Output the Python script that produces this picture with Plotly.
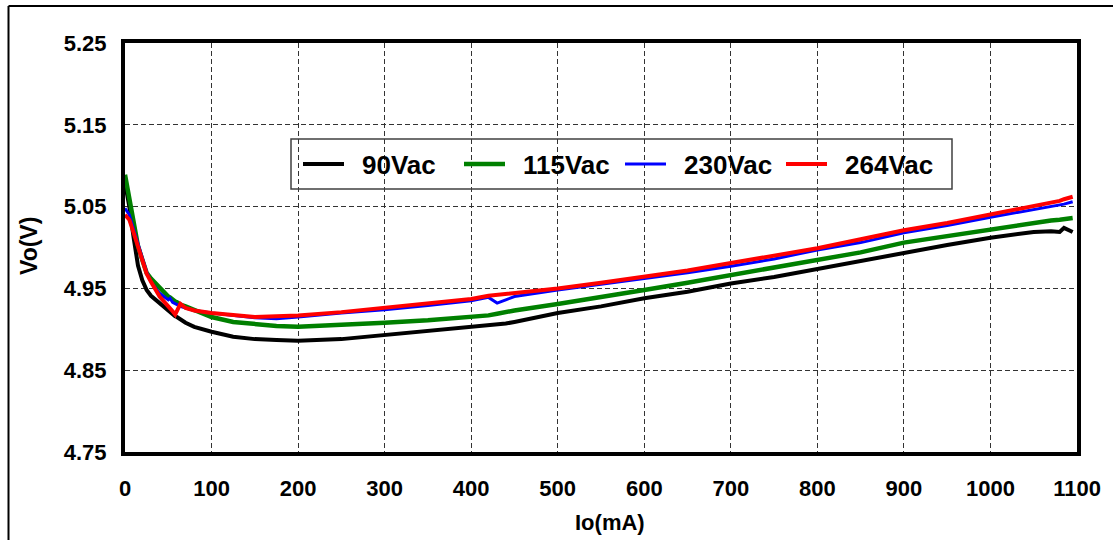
import plotly.graph_objects as go

# ---- data ----
io_ma = [0, 5, 10, 15, 20, 25, 30, 40, 50, 52, 55, 58, 60, 64, 70, 80, 100, 125, 150, 175,
         200, 250, 300, 350, 400, 420, 430, 440, 450, 500, 550, 600, 650, 700, 750, 800,
         850, 900, 950, 1000, 1050, 1070, 1080, 1085, 1095]

vo_90 = [5.079, 5.050, 5.012, 4.978, 4.960, 4.948, 4.941, 4.932, 4.922, 4.921, 4.918, 4.916,
         4.915, 4.912, 4.908, 4.903, 4.897, 4.891, 4.888, 4.887, 4.886, 4.888, 4.893, 4.897,
         4.902, 4.904, 4.905, 4.907, 4.909, 4.920, 4.928, 4.938, 4.946, 4.956, 4.964, 4.974,
         4.984, 4.993, 5.003, 5.012, 5.019, 5.020, 5.019, 5.024, 5.019]

vo_115 = [5.089, 5.062, 5.030, 5.002, 4.985, 4.969, 4.962, 4.950, 4.940, 4.939, 4.936, 4.934,
          4.933, 4.930, 4.928, 4.924, 4.915, 4.909, 4.906, 4.904, 4.903, 4.905, 4.908, 4.911,
          4.915, 4.917, 4.919, 4.921, 4.923, 4.931, 4.939, 4.948, 4.957, 4.966, 4.975, 4.984,
          4.994, 5.006, 5.014, 5.023, 5.030, 5.033, 5.034, 5.035, 5.036]

vo_230 = [5.048, 5.040, 5.022, 5.005, 4.985, 4.970, 4.958, 4.944, 4.936, 4.938, 4.933, 4.931,
          4.930, 4.928, 4.926, 4.923, 4.920, 4.917, 4.914, 4.913, 4.915, 4.920, 4.924, 4.929,
          4.935, 4.939, 4.932, 4.936, 4.940, 4.948, 4.955, 4.962, 4.969, 4.977, 4.986, 4.997,
          5.006, 5.018, 5.027, 5.037, 5.046, 5.050, 5.052, 5.053, 5.056]

vo_264 = [5.040, 5.034, 5.018, 5.000, 4.986, 4.968, 4.958, 4.940, 4.928, 4.926, 4.922, 4.918,
          4.922, 4.931, 4.926, 4.923, 4.920, 4.917, 4.915, 4.916, 4.917, 4.921, 4.926, 4.931,
          4.937, 4.941, 4.942, 4.943, 4.944, 4.950, 4.957, 4.964, 4.972, 4.981, 4.990, 4.999,
          5.010, 5.021, 5.030, 5.040, 5.050, 5.054, 5.057, 5.059, 5.062]

series_names = ["90Vac", "115Vac", "230Vac", "264Vac"]
series_values = [vo_90, vo_115, vo_230, vo_264]
series_colors = ["#000000", "#008000", "#0000ff", "#ff0000"]
series_widths = [4, 4.5, 3, 4]

x_ticks = [0, 100, 200, 300, 400, 500, 600, 700, 800, 900, 1000, 1100]
y_ticks = [4.75, 4.85, 4.95, 5.05, 5.15, 5.25]

FONT = "Liberation Sans, Arial, sans-serif"

fig = go.Figure()
for name, vals, col, w in zip(series_names, series_values, series_colors, series_widths):
    fig.add_trace(go.Scatter(x=io_ma, y=vals, mode="lines", name="\u2002" + name,
                             line=dict(color=col, width=w)))

W, H = 1113, 540
L, R, T, B = 125, 36, 43, 88
pw, ph = W - L - R, H - T - B


def px_x(p):
    return (p - L) / pw


def px_y(p):
    return (H - B - p) / ph


fig.update_layout(
    width=W, height=H,
    margin=dict(l=L, r=R, t=T, b=B),
    paper_bgcolor="white", plot_bgcolor="white",
    font=dict(family=FONT, size=22, color="black", weight="bold"),
    showlegend=True,
    legend=dict(orientation="h", x=px_x(298), xanchor="left", y=px_y(164), yanchor="middle",
                bgcolor="rgba(0,0,0,0)", borderwidth=0, itemwidth=41,
                font=dict(family=FONT, size=26, color="black", weight="bold"),
                entrywidth=105, entrywidthmode="pixels"),
    xaxis=dict(range=[0, 1100], tickvals=x_ticks, ticktext=[str(v) for v in x_ticks],
               showgrid=True, gridcolor="#333333", griddash="5px,3px", gridwidth=1,
               showline=True, linecolor="black", linewidth=4, mirror=True,
               ticks="", ticklabelstandoff=14, zeroline=False,
               tickfont=dict(family=FONT, size=22, weight="bold")),
    yaxis=dict(range=[4.75, 5.25], tickvals=y_ticks, ticktext=["%.2f" % v for v in y_ticks],
               showgrid=True, gridcolor="#333333", griddash="5px,3px", gridwidth=1,
               showline=True, linecolor="black", linewidth=4, mirror=True,
               ticks="", ticklabelstandoff=10, zeroline=False,
               tickfont=dict(family=FONT, size=22, weight="bold")),
    annotations=[
        dict(text="Io(mA)", xref="paper", yref="paper", x=px_x(610), y=px_y(522),
             xanchor="center", yanchor="middle", showarrow=False,
             font=dict(family=FONT, size=22, weight="bold")),
        dict(text="Vo(V)", xref="paper", yref="paper", x=px_x(29), y=px_y(246),
             xanchor="center", yanchor="middle", showarrow=False, textangle=-90,
             font=dict(family=FONT, size=23, weight="bold")),
    ],
    shapes=[
        # legend box
        dict(type="rect", xref="paper", yref="paper", x0=px_x(291), x1=px_x(952),
             y0=px_y(189), y1=px_y(139), line=dict(color="#404040", width=1.5)),
        # outer frame (top and left)
        dict(type="line", xref="paper", yref="paper", x0=px_x(8.5), x1=px_x(1120),
             y0=px_y(6), y1=px_y(6), line=dict(color="black", width=2)),
        dict(type="line", xref="paper", yref="paper", x0=px_x(8.5), x1=px_x(8.5),
             y0=px_y(6), y1=px_y(545), line=dict(color="black", width=2)),
    ],
)

fig.write_html("out.html")
